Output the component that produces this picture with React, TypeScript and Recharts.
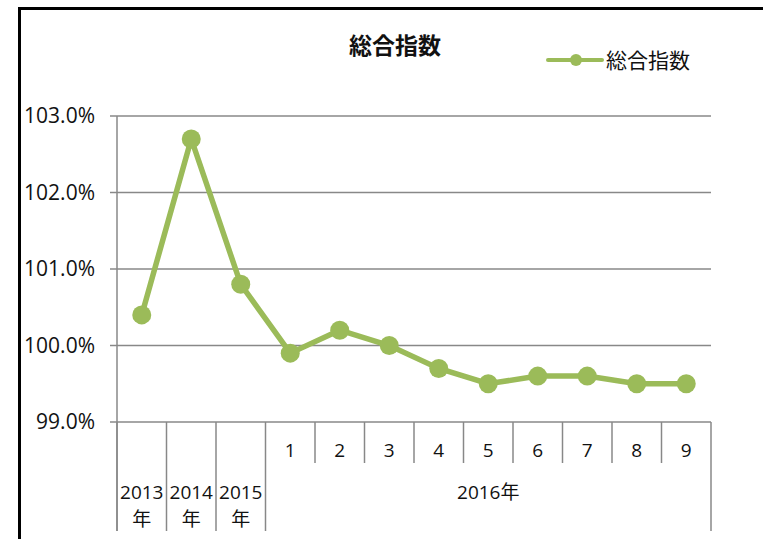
import React from 'react';
import {CartesianGrid, Line, LineChart, XAxis, YAxis} from 'recharts';

const yearCats = ['2013', '2014', '2015'];
const monthCats = ['1', '2', '3', '4', '5', '6', '7', '8', '9'];
const groupLabel = '2016年';
const seriesName = '総合指数';
const indexValues = [100.4, 102.7, 100.8, 99.9, 100.2, 100.0, 99.7, 99.5, 99.6, 99.6, 99.5, 99.5];
const yTicks = [99, 100, 101, 102, 103];

const categories = [...yearCats.map((y) => y + '年'), ...monthCats];
const chartData = categories.map((cat, i) => ({cat, value: indexValues[i]}));

const W = 763;
const H = 539;
const PLOT_LEFT = 117;
const PLOT_RIGHT = 711;
const PLOT_TOP = 116;
const PLOT_BOTTOM = 422;
const AXIS_BOTTOM = 531;
const MONTH_BOTTOM = 463;
const GREEN = '#9BBB59';
const GRID = '#888888';
const FONT = '"Open Sans", "Noto Sans CJK JP", sans-serif';
const CJK = '"Noto Sans CJK JP", "Open Sans", sans-serif';

const XTick = (props: any) => {
    const {x, payload} = props;
    const i = payload.index;
    const bw = (PLOT_RIGHT - PLOT_LEFT) / categories.length;
    const left = x - bw / 2;
    const right = x + bw / 2;
    const nY = yearCats.length;
    if (i < nY) {
        return (
            <g>
                <line x1={left} x2={left} y1={PLOT_BOTTOM} y2={AXIS_BOTTOM} stroke={GRID} strokeWidth={1.5}/>
                <text x={x} y={499} textAnchor="middle" fontSize={19} fontFamily={FONT} fill="#111">{yearCats[i]}</text>
                <text x={x} y={526} textAnchor="middle" fontSize={19} fontFamily={CJK} fill="#111">年</text>
            </g>
        );
    }
    const isFirst = i === nY;
    const isLast = i === categories.length - 1;
    return (
        <g>
            <line x1={left} x2={left} y1={PLOT_BOTTOM} y2={isFirst ? AXIS_BOTTOM : MONTH_BOTTOM} stroke={GRID} strokeWidth={1.5}/>
            {isLast && <line x1={right} x2={right} y1={PLOT_BOTTOM} y2={AXIS_BOTTOM} stroke={GRID} strokeWidth={1.5}/>}
            <text x={x} y={457} textAnchor="middle" fontSize={19} fontFamily={FONT} fill="#111">{monthCats[i - nY]}</text>
            {isFirst && (
                <text x={left + (bw * monthCats.length) / 2} y={499} textAnchor="middle" fontSize={19} fontFamily={FONT} fill="#111">
                    {groupLabel}
                </text>
            )}
        </g>
    );
};

const App = () => {
    return (
        <div style={{position: 'absolute', left: 0, top: 0, width: W, height: H, overflow: 'hidden', background: '#fff'}}>
            <div style={{position: 'absolute', left: 18, top: 7, width: 900, height: 700, border: '3px solid #000'}}/>
            <div style={{
                position: 'absolute', left: 295, top: 29, width: 200, textAlign: 'center',
                fontFamily: CJK, fontWeight: 700, fontSize: 23, color: '#111', lineHeight: '30px'
            }}>{seriesName}
            </div>
            <LineChart
                width={W}
                height={H}
                data={chartData}
                margin={{top: PLOT_TOP, right: W - PLOT_RIGHT, left: 17, bottom: 0}}
                style={{position: 'absolute', left: 0, top: 0}}
            >
                <CartesianGrid vertical={false} stroke={GRID} strokeWidth={1.5}/>
                <XAxis
                    dataKey="cat"
                    scale="band"
                    height={H - PLOT_BOTTOM}
                    interval={0}
                    tickLine={false}
                    axisLine={false}
                    tick={<XTick/>}
                />
                <YAxis
                    width={100}
                    domain={[99, 103]}
                    ticks={yTicks}
                    tickFormatter={(v) => `${v.toFixed(1)}%`}
                    tick={{fill: '#111', fontSize: 21, fontFamily: FONT}}
                    tickSize={7}
                    tickMargin={15}
                    tickLine={{stroke: GRID, strokeWidth: 1.5}}
                    axisLine={{stroke: GRID, strokeWidth: 1.5}}
                />
                <Line
                    type="linear"
                    dataKey="value"
                    name={seriesName}
                    stroke={GREEN}
                    strokeWidth={5.5}
                    dot={{r: 9.5, fill: GREEN, stroke: 'none'}}
                    activeDot={false}
                    isAnimationActive={false}
                />
            </LineChart>
            <svg width={W} height={H} style={{position: 'absolute', left: 0, top: 0, pointerEvents: 'none'}}>
                <line x1={PLOT_LEFT} x2={PLOT_LEFT} y1={PLOT_BOTTOM} y2={AXIS_BOTTOM} stroke={GRID} strokeWidth={1.5}/>
                <line x1={548} x2={602} y1={60} y2={60} stroke={GREEN} strokeWidth={4} strokeLinecap="round"/>
                <circle cx={576} cy={60} r={6} fill={GREEN}/>
                <text x={606} y={68} fontSize={21} fontFamily={CJK} fill="#111">{seriesName}</text>
            </svg>
        </div>
    );
};

export default App;
